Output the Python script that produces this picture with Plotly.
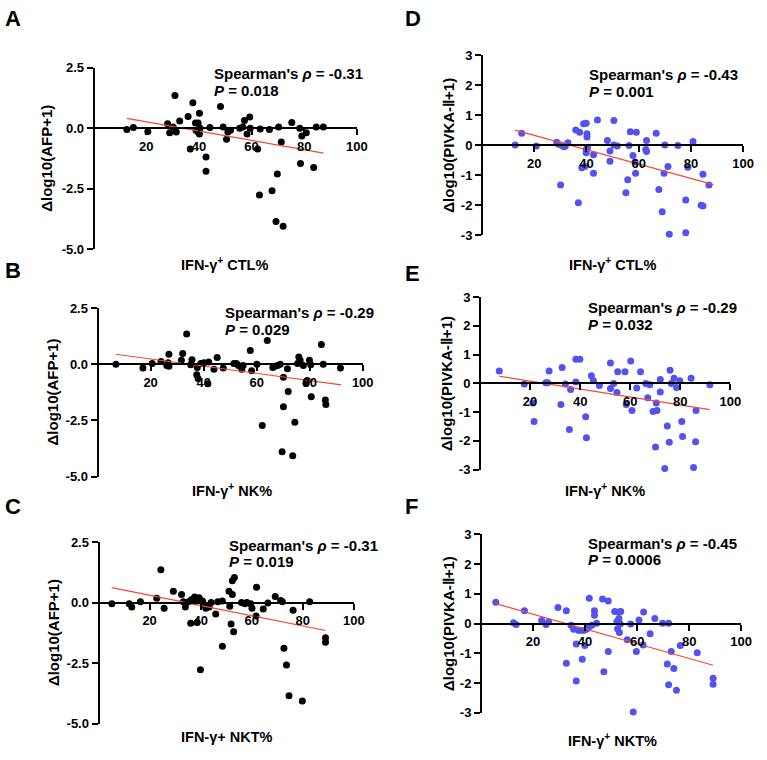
import plotly.graph_objects as go

W, H = 767, 760

# ---------------- Data ----------------
# Panel A: IFN-γ+ CTL% vs Δlog10(AFP+1)
a_x = [12.6, 15.1, 20.6, 28.1, 28.9, 30.2, 30.9, 31.4, 32.7, 35.9, 36.7, 37.7, 38.7, 38.9, 39.7, 40.2, 39.7, 40.2,
       40.4, 42.7, 42.7, 44.2, 48.2, 49.2, 50.5, 51.0, 52.0, 55.5, 56.7, 57.3, 58.3, 59.3, 59.5, 62.3, 63.0, 63.3,
       66.8, 67.8, 69.3, 69.8, 70.3, 71.3, 72.0, 75.3, 78.3, 78.6, 79.1, 80.8, 83.6, 84.6, 87.3]
a_y = [-0.05, 0.03, -0.14, 0.19, -0.19, 0.05, 1.35, -0.16, 0.30, 0.49, -0.86, 1.05, 0.22, -0.08, 0.22, 0.62, -0.16,
       -0.24, 0.00, -1.19, -1.78, 0.03, 0.90, 0.05, -0.46, -0.16, -0.08, 0.00, 0.05, 0.32, -0.24, 0.46, 0.00, -0.86,
       -2.76, -0.03, -0.05, -2.59, -3.86, -1.89, 0.05, -0.57, -4.05, 0.24, 0.00, -1.46, -0.32, -0.19, -1.62, 0.05, 0.05]
a_fit_x = [12.6, 87.4]
a_fit_y = [0.41, -1.03]

# Panel B: IFN-γ+ NK% vs Δlog10(AFP+1)
b_x = [6.9, 17.1, 20.6, 23.9, 26.1, 26.9, 26.6, 26.9, 31.6, 32.1, 33.6, 35.1, 35.6, 37.6, 37.4, 37.9, 38.9, 40.1,
       41.6, 41.9, 43.9, 45.1, 47.4, 51.4, 52.4, 53.1, 54.4, 54.9, 57.6, 58.1, 60.1, 64.0, 62.1, 66.1, 66.9, 67.9,
       68.9, 69.6, 70.1, 70.1, 71.6, 71.9, 73.6, 74.4, 75.4, 75.9, 76.4, 77.6, 78.6, 79.1, 79.9, 80.4, 80.6, 84.4,
       85.1, 85.9, 86.1, 91.6]
b_y = [0.00, -0.17, 0.03, 0.12, -0.06, 0.44, 0.06, -0.09, 0.17, 0.47, 1.34, -0.03, 0.20, -0.15, -0.47, -0.64, 0.03,
       0.06, -0.87, 0.09, -0.23, 0.29, -0.17, 0.03, 0.03, -0.06, -0.23, -0.06, 0.61, -0.29, 0.00, 1.05, -2.73, -0.15,
       -0.09, -0.06, 0.00, -3.90, -0.58, -1.89, -0.20, -1.22, -4.07, -2.59, 0.03, 0.32, 0.17, -0.06, -0.84, -0.73,
       0.17, -0.03, -1.45, 0.87, 0.00, -1.60, -1.80, -0.17]
b_fit_x = [6.9, 91.9]
b_fit_y = [0.44, -0.92]

# Panel C: IFN-γ+ NKT% vs Δlog10(AFP+1)
c_x = [5.2, 12.0, 13.0, 16.4, 22.8, 24.4, 25.7, 29.3, 32.5, 33.2, 34.0, 35.3, 36.1, 36.3, 37.6, 37.9, 38.6, 39.4,
       39.9, 40.7, 41.5, 42.0, 43.3, 44.1, 45.9, 46.7, 48.5, 48.5, 51.1, 51.4, 51.9, 52.4, 52.4, 53.2, 52.9, 56.0,
       57.3, 58.1, 59.6, 60.1, 61.7, 61.9, 64.5, 66.3, 69.2, 71.3, 72.0, 72.6, 73.6, 74.6, 76.2, 79.8, 82.7, 88.9, 88.9]
c_y = [-0.04, -0.04, -0.18, 0.04, 0.18, 1.36, -0.23, 0.47, 0.34, 0.04, -0.18, 0.04, -0.85, 0.12, 0.23, 0.04, -0.82,
       0.20, -2.77, 0.07, -0.09, -0.23, -0.18, 0.01, -0.47, 0.04, 0.07, -1.80, 0.47, -0.15, -0.88, 0.34, 0.91, 1.04,
       -1.20, 0.01, -0.04, 0.01, -0.04, -0.23, -0.55, 0.64, -0.26, -0.01, 0.26, 0.09, 0.04, -1.88, -2.58, -3.85,
       -0.31, -4.07, 0.04, -1.45, -1.64]
c_fit_x = [5.2, 88.9]
c_fit_y = [0.62, -1.15]

# Panel D: IFN-γ+ CTL% vs Δlog10(PIVKA-II+1)
d_x = [12.7, 15.2, 20.8, 28.6, 29.3, 30.1, 30.6, 31.4, 31.9, 32.9, 35.9, 36.9, 37.4, 38.2, 38.9, 39.4, 39.9, 40.2,
       40.2, 39.9, 39.9, 40.4, 42.7, 42.7, 44.2, 48.0, 49.0, 49.0, 50.5, 50.5, 51.8, 55.1, 55.8, 56.3, 56.8, 57.8,
       58.6, 59.1, 58.8, 63.0, 62.7, 63.0, 66.7, 67.7, 69.0, 69.7, 70.0, 71.2, 71.7, 75.0, 78.0, 78.0, 78.8, 80.8,
       83.9, 84.6, 84.6, 86.9]
d_y = [0.01, 0.40, -0.03, 0.10, 0.03, -1.32, -0.01, -0.05, -0.03, 0.08, 0.51, -1.91, 0.43, -0.75, 0.71, -0.71, 0.73,
       0.38, 0.27, -0.14, -0.25, -0.08, -0.32, -0.93, 0.84, 0.16, -0.19, -0.53, 0.82, 0.01, -0.03, -1.58, -1.15, -0.01,
       0.45, -0.34, -0.56, 0.43, -0.93, 0.16, -0.14, -0.21, 0.40, -1.47, -2.21, -0.93, 0.01, -0.71, -2.96, -0.01,
       -1.82, -2.91, -0.73, 0.12, -2.00, -2.02, -0.97, -1.32]
d_fit_x = [12.7, 88.6]
d_fit_y = [0.50, -1.31]

# Panel E: IFN-γ+ NK% vs Δlog10(PIVKA-II+1)
e_x = [7.7, 17.7, 21.1, 21.6, 26.3, 27.0, 27.6, 32.3, 32.8, 34.1, 35.7, 36.2, 38.3, 38.3, 39.9, 42.2, 42.5, 44.5,
       45.3, 47.7, 52.1, 52.1, 53.4, 54.7, 55.0, 57.9, 58.4, 60.2, 60.7, 62.6, 64.1, 66.2, 67.0, 67.8, 69.1, 70.1,
       70.4, 70.7, 72.0, 72.0, 73.8, 74.8, 75.6, 75.9, 76.4, 77.5, 78.5, 79.8, 80.6, 80.9, 84.3, 85.3, 86.1, 86.3, 91.8]
e_y = [0.43, -0.02, -0.68, -1.32, 0.02, 0.02, 0.43, -0.73, 0.55, -0.02, -1.60, -0.21, 0.84, 0.05, 0.84, -1.16, -1.89,
       0.27, 0.09, -0.07, 0.71, -0.18, 0.00, -0.32, 0.41, 0.41, -0.73, 0.78, -0.94, -0.16, 0.41, 0.00, -0.50, -0.05,
       -0.98, -2.21, -0.68, -0.94, 0.14, -0.30, -2.96, -1.48, -2.05, 0.46, 0.00, 0.18, -0.14, 0.09, -1.32, -1.85,
       0.18, -2.92, -2.03, -0.94, -0.05]
e_fit_x = [7.7, 91.8]
e_fit_y = [0.25, -0.91]

# Panel F: IFN-γ+ NKT% vs Δlog10(PIVKA-II+1)
f_x = [5.7, 12.5, 13.5, 16.7, 23.3, 25.0, 26.0, 29.6, 32.8, 32.8, 34.6, 35.6, 36.6, 36.6, 37.6, 38.9, 39.4, 39.9,
       40.6, 41.6, 41.6, 42.6, 43.6, 43.6, 44.4, 46.7, 47.2, 48.9, 48.9, 51.4, 52.2, 52.5, 53.0, 53.0, 53.5, 53.2,
       53.7, 56.2, 57.5, 58.5, 59.7, 60.7, 62.3, 62.5, 65.0, 66.8, 69.8, 71.6, 72.1, 72.1, 73.1, 74.1, 75.1, 76.6,
       80.4, 83.1, 89.2, 89.2]
f_y = [0.72, 0.03, -0.03, 0.43, 0.10, -0.03, 0.06, 0.54, 0.43, -1.33, -0.06, -0.19, -0.69, -1.93, -0.23, -1.20, -0.23,
       -0.74, -0.19, 0.85, -0.10, -0.06, 0.43, 0.28, 0.01, 0.83, -1.62, 0.76, -0.94, 0.41, 0.06, -0.17, 0.17, 0.39,
       -0.01, -0.30, 0.41, -0.54, -0.01, -2.97, -0.94, 0.12, -0.72, 0.39, -0.34, 0.17, 0.01, -1.36, 0.01, -2.06,
       -0.94, -1.51, -2.24, -0.74, -3.01, -0.98, -1.84, -2.04]
f_fit_x = [5.7, 89.2]
f_fit_y = [0.67, -1.40]

# Tick labels / texts
afp_ticks = [-5.0, -2.5, 0.0, 2.5]
afp_ticktext = ["-5.0", "-2.5", "0.0", "2.5"]
pivka_ticks = [-3, -2, -1, 0, 1, 2, 3]
pivka_ticktext = ["-3", "-2", "-1", "0", "1", "2", "3"]
x_ticks = [20, 40, 60, 80, 100]
x_ticktext = ["20", "40", "60", "80", "100"]

letters = ["A", "B", "C", "D", "E", "F"]
rho = ["-0.31", "-0.29", "-0.31", "-0.43", "-0.29", "-0.45"]
pvals = ["0.018", "0.029", "0.019", "0.001", "0.032", "0.0006"]
xtitles = ["IFN-γ<sup>+</sup> CTL%", "IFN-γ<sup>+</sup> NK%", "IFN-γ+ NKT%",
           "IFN-γ<sup>+</sup> CTL%", "IFN-γ<sup>+</sup> NK%", "IFN-γ<sup>+</sup> NKT%"]
ytitles = ["Δlog10(AFP+1)"] * 3 + ["Δlog10(PIVKA-Ⅱ+1)"] * 3

# ---------------- Layout geometry (pixels) ----------------
# plot box: x0, x1, ytop, ybottom
boxes = [
    (95, 362, 62, 247),    # A
    (99, 368, 307, 479),   # B
    (100, 359, 546, 731),  # C
    (489, 754, 49, 233),   # D
    (487, 741, 296, 472),  # E
    (488, 752, 538, 720),  # F
]
letter_pos = [(3, 12), (3, 269), (3, 510), (409, 12), (409, 272), (409, 510)]
stat_pos = [(215, 68), (226, 312), (230, 549), (596, 69), (595, 307), (595, 547)]
xtitle_pos = [(228, 262), (235, 493), (230, 745), (621, 262), (614, 493), (621, 748)]
ytitle_x = [47, 53, 55, 455, 453, 455]

BLACK_DOT = "#000000"
BLUE_DOT = "#5252F2"
FIT_RED = "#F24A3A"
FONT = "Liberation Sans, Arial, sans-serif"

panels = [
    (a_x, a_y, a_fit_x, a_fit_y, BLACK_DOT, (-5, 2.5), afp_ticks, afp_ticktext),
    (b_x, b_y, b_fit_x, b_fit_y, BLACK_DOT, (-5, 2.5), afp_ticks, afp_ticktext),
    (c_x, c_y, c_fit_x, c_fit_y, BLACK_DOT, (-5, 2.5), afp_ticks, afp_ticktext),
    (d_x, d_y, d_fit_x, d_fit_y, BLUE_DOT, (-3, 3), pivka_ticks, pivka_ticktext),
    (e_x, e_y, e_fit_x, e_fit_y, BLUE_DOT, (-3, 3), pivka_ticks, pivka_ticktext),
    (f_x, f_y, f_fit_x, f_fit_y, BLUE_DOT, (-3, 3), pivka_ticks, pivka_ticktext),
]


def px2fx(px):
    return px / W


def px2fy(py):
    return 1 - py / H


fig = go.Figure()
annotations = []
layout = {}

for i, (xs, ys, fx, fy, col, yr, yt, ytt) in enumerate(panels):
    n = i + 1
    xa = "x" if n == 1 else f"x{n}"
    ya = "y" if n == 1 else f"y{n}"
    xkey = "xaxis" if n == 1 else f"xaxis{n}"
    ykey = "yaxis" if n == 1 else f"yaxis{n}"
    x0, x1, yt_px, yb_px = boxes[i]
    xdom = [px2fx(x0), px2fx(x1)]
    ydom = [px2fy(yb_px), px2fy(yt_px)]
    zero_frac = (0 - yr[0]) / (yr[1] - yr[0])
    xpos = ydom[0] + zero_frac * (ydom[1] - ydom[0])

    fig.add_trace(go.Scatter(x=xs, y=ys, mode="markers", xaxis=xa, yaxis=ya,
                             marker=dict(color=col, size=7, line=dict(width=0)),
                             cliponaxis=False, showlegend=False))
    fig.add_trace(go.Scatter(x=fx, y=fy, mode="lines", xaxis=xa, yaxis=ya,
                             line=dict(color=FIT_RED, width=1.2),
                             cliponaxis=False, showlegend=False))

    layout[xkey] = dict(domain=xdom, range=[0, 100], anchor="free", position=xpos,
                        showline=True, linecolor="black", linewidth=2,
                        ticks="outside", ticklen=6, tickwidth=2, tickcolor="black",
                        tickvals=x_ticks, ticktext=x_ticktext,
                        tickfont=dict(family=FONT, size=13, color="black", weight="bold"),
                        showgrid=False, zeroline=False, fixedrange=True)
    layout[ykey] = dict(domain=ydom, range=list(yr), anchor="free", position=xdom[0],
                        showline=True, linecolor="black", linewidth=2,
                        ticks="outside", ticklen=6, tickwidth=2, tickcolor="black",
                        tickvals=yt, ticktext=ytt,
                        tickfont=dict(family=FONT, size=13, color="black", weight="bold"),
                        showgrid=False, zeroline=False, fixedrange=True)

    # panel letter
    lx, ly = letter_pos[i]
    annotations.append(dict(text=f"<b>{letters[i]}</b>", x=px2fx(lx), y=px2fy(ly), xref="paper", yref="paper",
                            xanchor="left", yanchor="middle", showarrow=False,
                            font=dict(family=FONT, size=22, color="black")))
    # statistics
    sx, sy = stat_pos[i]
    annotations.append(dict(text=f"<b>Spearman's <i>ρ</i> = {rho[i]}</b>", x=px2fx(sx), y=px2fy(sy),
                            xref="paper", yref="paper", xanchor="left", yanchor="middle", showarrow=False,
                            font=dict(family=FONT, size=15, color="black")))
    annotations.append(dict(text=f"<b><i>P</i> = {pvals[i]}</b>", x=px2fx(sx), y=px2fy(sy + 17),
                            xref="paper", yref="paper", xanchor="left", yanchor="middle", showarrow=False,
                            font=dict(family=FONT, size=15, color="black")))
    # x title
    tx, ty = xtitle_pos[i]
    annotations.append(dict(text=f"<b>{xtitles[i]}</b>", x=px2fx(tx), y=px2fy(ty), xref="paper", yref="paper",
                            xanchor="center", yanchor="middle", showarrow=False,
                            font=dict(family=FONT, size=14.5, color="black")))
    # y title
    annotations.append(dict(text=f"<b>{ytitles[i]}</b>", x=px2fx(ytitle_x[i]), y=px2fy((yt_px + yb_px) / 2),
                            xref="paper", yref="paper", xanchor="center", yanchor="middle", showarrow=False,
                            textangle=-90, font=dict(family=FONT, size=15, color="black")))

fig.update_layout(width=W, height=H, autosize=False, margin=dict(l=0, r=0, t=0, b=0),
                  paper_bgcolor="white", plot_bgcolor="white", showlegend=False,
                  annotations=annotations, **layout)

fig.write_html("out.html")
